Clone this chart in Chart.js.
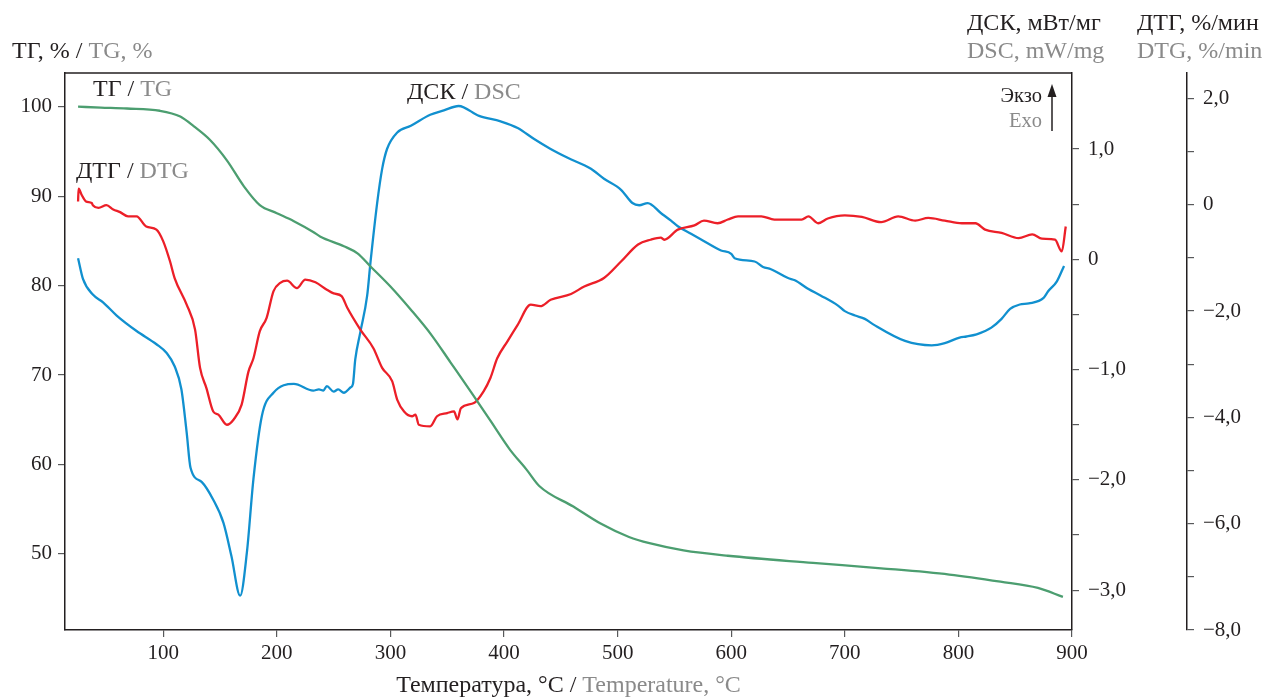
<!DOCTYPE html>
<html>
<head>
<meta charset="utf-8">
<script src="https://cdn.jsdelivr.net/npm/chart.js@4/dist/chart.umd.min.js"></script>
<style>
  html, body { margin: 0; padding: 0; background: #ffffff; }
  canvas { display: block; }
</style>
</head>
<body>
<canvas id="thermo" width="1265" height="698"></canvas>
<script>
// Thermogravimetry (TG), its derivative (DTG) and DSC versus temperature, °C

const tgTemp = [25, 45, 68, 97, 115, 127, 141, 156, 171, 185, 200, 215, 232, 238, 259, 271, 282, 300, 318, 336, 353, 371, 388, 405, 420, 431, 461, 485, 510, 528, 558, 597, 672, 732, 792, 837, 870, 892];
const tgValues = [100.0, 99.9, 99.8, 99.55, 98.9, 97.8, 96.3, 94.0, 91.1, 89.0, 88.1, 87.2, 86.0, 85.5, 84.4, 83.6, 82.2, 79.9, 77.3, 74.5, 71.4, 68.1, 64.9, 61.7, 59.4, 57.6, 55.3, 53.4, 51.9, 51.2, 50.4, 49.8, 49.0, 48.4, 47.7, 46.9, 46.2, 45.2];

const dscTemp = [25, 29.4, 38, 47, 59, 76.5, 94, 103, 110, 116, 120.6, 124, 134, 144, 153, 160, 167.7, 173.6, 179.4, 186.8, 197, 215, 232, 237, 241, 244, 250, 254, 259, 265, 267, 269, 273.5, 279.5, 282.4, 288.3, 292.7, 297, 306, 318, 335, 347, 360, 378, 397, 412, 426.5, 441, 456, 476.5, 488, 503, 513, 519, 526.5, 538, 547, 553, 565, 573.5, 591, 600, 603, 620.6, 628, 635, 650, 656, 668, 679, 694, 700, 709, 717.6, 725, 753, 776.5, 788, 801, 807, 816, 823.5, 829, 838, 845.5, 854, 862, 875, 879, 886.7, 893];
const dscValues = [0.01, -0.18, -0.32, -0.39, -0.51, -0.65, -0.77, -0.85, -0.97, -1.18, -1.57, -1.89, -2.02, -2.18, -2.39, -2.69, -3.05, -2.66, -1.99, -1.42, -1.21, -1.13, -1.19, -1.18, -1.19, -1.15, -1.20, -1.18, -1.21, -1.16, -1.13, -0.91, -0.66, -0.33, -0.03, 0.51, 0.82, 1.00, 1.15, 1.21, 1.31, 1.35, 1.39, 1.30, 1.25, 1.19, 1.09, 1.00, 0.92, 0.82, 0.73, 0.63, 0.51, 0.49, 0.51, 0.42, 0.35, 0.30, 0.23, 0.18, 0.08, 0.05, 0.01, -0.02, -0.07, -0.09, -0.17, -0.19, -0.27, -0.33, -0.42, -0.47, -0.51, -0.54, -0.59, -0.74, -0.78, -0.76, -0.71, -0.70, -0.68, -0.65, -0.62, -0.54, -0.45, -0.41, -0.40, -0.35, -0.29, -0.20, -0.06];

const dtgTemp = [25, 25.5, 28, 32, 37, 38, 43, 50, 56, 62, 69, 76.5, 85, 94, 100, 106, 110, 120.6, 128, 132.4, 138, 144, 148.5, 156, 162, 169, 175, 179.4, 185, 191, 197, 203, 209, 217.7, 225, 234, 244, 250, 257, 262, 273.5, 285, 292.7, 301.5, 306, 312, 319, 322, 325, 335, 341, 350, 356, 359, 362, 373.5, 382, 388, 394, 403, 412, 423.5, 432, 441, 459, 470.6, 488, 503, 518, 529, 538, 541, 553, 567.6, 576, 588, 597, 606, 626.5, 638, 662, 668, 676.5, 685, 700, 715, 732, 747, 762, 773.5, 788, 803, 815, 823.5, 838, 853, 865, 873.5, 885, 891, 894.5];
const dtgValues = [0.06, 0.30, 0.19, 0.06, 0.03, -0.01, -0.06, -0.01, -0.09, -0.14, -0.22, -0.22, -0.41, -0.47, -0.69, -1.07, -1.38, -1.88, -2.35, -3.07, -3.45, -3.89, -3.95, -4.14, -4.04, -3.76, -3.14, -2.89, -2.38, -2.13, -1.63, -1.47, -1.43, -1.57, -1.41, -1.46, -1.60, -1.67, -1.72, -1.94, -2.35, -2.70, -3.07, -3.32, -3.67, -3.89, -3.98, -3.95, -4.14, -4.17, -3.98, -3.92, -3.89, -4.04, -3.83, -3.73, -3.51, -3.26, -2.89, -2.57, -2.26, -1.88, -1.91, -1.79, -1.68, -1.54, -1.38, -1.07, -0.75, -0.66, -0.62, -0.66, -0.47, -0.39, -0.30, -0.35, -0.28, -0.22, -0.22, -0.28, -0.28, -0.22, -0.35, -0.26, -0.20, -0.23, -0.33, -0.22, -0.30, -0.25, -0.30, -0.35, -0.35, -0.47, -0.53, -0.63, -0.56, -0.64, -0.66, -0.88, -0.41];

const tempTicks = [100, 200, 300, 400, 500, 600, 700, 800, 900];
const tgTicks = [50, 60, 70, 80, 90, 100];
const dscTicks = [-3.0, -2.5, -2.0, -1.5, -1.0, -0.5, 0, 0.5, 1.0];
const dscLabelled = [-3.0, -2.0, -1.0, 0, 1.0];
const dtgTicks = [-8, -7, -6, -5, -4, -3, -2, -1, 0, 1, 2];
const dtgLabelled = [-8, -6, -4, -2, 0, 2];

const INK = '#231f20';
const GREY = '#8a8a8a';
const TICK = '#58595b';
const SERIF = '"Liberation Serif", "Times New Roman", serif';

const points = (xs, ys) => xs.map((x, i) => ({ x: x, y: ys[i] }));

// "1,0", "0", "−2,0"
function commaLabel(v) {
  if (v === 0) return '0';
  return (v < 0 ? '\u2212' : '') + Math.abs(v).toFixed(1).replace('.', ',');
}

const fixedTicks = list => scale => { scale.ticks = list.map(v => ({ value: v })); };

const axisGrid = { drawOnChartArea: false, drawTicks: true, tickLength: 7, color: TICK, lineWidth: 1.2 };
const axisBorder = { display: true, color: INK, width: 1.5 };
const tickFont = { family: SERIF, size: 21 };

// Text rendered in runs of different colours (Russian in black, English in grey)
function runs(ctx, x, y, parts, align) {
  let total = 0;
  parts.forEach(p => { total += ctx.measureText(p[0]).width; });
  let cx = align === 'right' ? x - total : (align === 'center' ? x - total / 2 : x);
  ctx.textAlign = 'left';
  parts.forEach(p => {
    ctx.fillStyle = p[1];
    ctx.fillText(p[0], cx, y);
    cx += ctx.measureText(p[0]).width;
  });
}

const annotations = {
  id: 'annotations',
  afterDraw(chart) {
    const ctx = chart.ctx;
    const a = chart.chartArea;
    ctx.save();
    // top edge of the frame
    ctx.strokeStyle = INK;
    ctx.lineWidth = 1.5;
    ctx.beginPath();
    ctx.moveTo(a.left, a.top);
    ctx.lineTo(a.right, a.top);
    ctx.stroke();

    ctx.textBaseline = 'middle';
    ctx.font = '24px ' + SERIF;
    // axis titles
    runs(ctx, 12, 52, [['ТГ, % / ', INK], ['TG, %', GREY]], 'left');
    runs(ctx, 967, 24, [['ДСК, мВт/мг', INK]], 'left');
    runs(ctx, 967, 52, [['DSC, mW/mg', GREY]], 'left');
    runs(ctx, 1137, 24, [['ДТГ, %/мин', INK]], 'left');
    runs(ctx, 1137, 52, [['DTG, %/min', GREY]], 'left');
    runs(ctx, (a.left + a.right) / 2, 686, [['Температура, °C / ', INK], ['Temperature, °C', GREY]], 'center');

    // curve captions
    runs(ctx, 93, 90, [['ТГ / ', INK], ['TG', GREY]], 'left');
    runs(ctx, 76, 172, [['ДТГ / ', INK], ['DTG', GREY]], 'left');
    runs(ctx, 407, 93, [['ДСК / ', INK], ['DSC', GREY]], 'left');

    // exothermic direction marker
    ctx.font = '20.5px ' + SERIF;
    runs(ctx, 1042, 97, [['Экзо', INK]], 'right');
    runs(ctx, 1042, 122, [['Exo', GREY]], 'right');
    ctx.strokeStyle = INK;
    ctx.fillStyle = INK;
    ctx.lineWidth = 1.5;
    ctx.beginPath();
    ctx.moveTo(1052, 131);
    ctx.lineTo(1052, 95);
    ctx.stroke();
    ctx.beginPath();
    ctx.moveTo(1052, 84);
    ctx.lineTo(1047.5, 97);
    ctx.lineTo(1056.5, 97);
    ctx.closePath();
    ctx.fill();
    ctx.restore();
  }
};

const lineStyle = { showLine: true, pointRadius: 0, borderWidth: 2.3, fill: false, cubicInterpolationMode: 'monotone' };

new Chart(document.getElementById('thermo'), {
  type: 'scatter',
  data: {
    datasets: [
      Object.assign({ label: 'ТГ / TG', data: points(tgTemp, tgValues), borderColor: '#4c9e70', yAxisID: 'yTG' }, lineStyle),
      Object.assign({ label: 'ДТГ / DTG', data: points(dtgTemp, dtgValues), borderColor: '#ec1f28', yAxisID: 'yDTG' }, lineStyle),
      Object.assign({ label: 'ДСК / DSC', data: points(dscTemp, dscValues), borderColor: '#1190cf', yAxisID: 'yDSC' }, lineStyle)
    ]
  },
  options: {
    responsive: false,
    animation: false,
    devicePixelRatio: 1,
    layout: { padding: { top: 73, left: 0, right: 0, bottom: 0 } },
    plugins: { legend: { display: false }, tooltip: { enabled: false } },
    scales: {
      x: {
        type: 'linear', position: 'bottom', min: 13.5, max: 900,
        afterBuildTicks: fixedTicks(tempTicks),
        afterFit: s => { s.height = 68; },
        ticks: { font: tickFont, color: INK, padding: 4, maxRotation: 0, autoSkip: false, callback: v => String(v) },
        grid: axisGrid, border: axisBorder
      },
      yTG: {
        type: 'linear', position: 'left', min: 41.5, max: 103.77,
        afterBuildTicks: fixedTicks(tgTicks),
        afterFit: s => { s.width = 65; },
        ticks: { font: tickFont, color: INK, padding: 6, autoSkip: false, callback: v => String(v) },
        grid: axisGrid, border: axisBorder
      },
      yDSC: {
        type: 'linear', position: 'right', weight: 0, min: -3.361, max: 1.689,
        afterBuildTicks: fixedTicks(dscTicks),
        afterFit: s => { s.width = 115; },
        ticks: { font: tickFont, color: INK, padding: 9, autoSkip: false,
                 callback: v => dscLabelled.some(t => Math.abs(t - v) < 1e-9) ? commaLabel(v) : '' },
        grid: axisGrid, border: axisBorder
      },
      yDTG: {
        type: 'linear', position: 'right', weight: 1, min: -8, max: 2.476,
        afterBuildTicks: fixedTicks(dtgTicks),
        afterFit: s => { s.width = 78; },
        ticks: { font: tickFont, color: INK, padding: 9, autoSkip: false,
                 callback: v => dtgLabelled.some(t => Math.abs(t - v) < 1e-9) ? commaLabel(v) : '' },
        grid: axisGrid, border: axisBorder
      }
    }
  },
  plugins: [annotations]
});
</script>
</body>
</html>
